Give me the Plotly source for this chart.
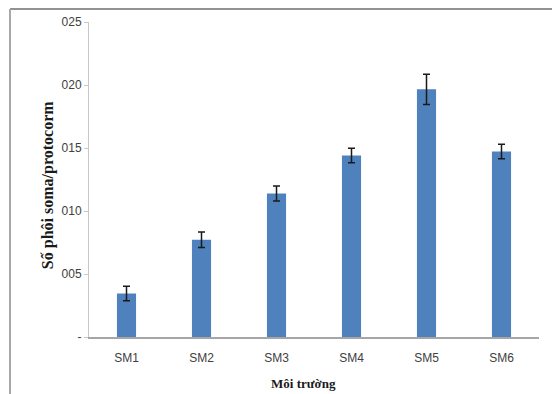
import plotly.graph_objects as go

categories = ["SM1", "SM2", "SM3", "SM4", "SM5", "SM6"]
values = [3.45, 7.72, 11.39, 14.4, 19.66, 14.72]
errors = [0.57, 0.62, 0.6, 0.58, 1.2, 0.58]
y_tickvals = [0, 5, 10, 15, 20, 25]
y_ticktext = ["-", "005", "010", "015", "020", "025"]

fig = go.Figure()
fig.add_trace(go.Bar(
    x=categories, y=values,
    marker=dict(color="#4f81bd", line=dict(width=0)),
    width=0.255,
    error_y=dict(type="data", array=errors, visible=True,
                 color="#1a1a1a", thickness=1.5, width=3.5),
))

# page body has an 8px margin, so the figure is laid out 8px up/left
OFF = 8
W, H = 560 - OFF, 394 - OFF
ml, mt = 89 - OFF, 22 - OFF
mr = W - (539 - OFF)
mb = H - (336.7 - OFF)
pw, ph = W - ml - mr, H - mt - mb


def px(x):
    return (x - OFF - ml) / pw


def py(y):
    return 1 - (y - OFF - mt) / ph


serif = "Liberation Serif, Times New Roman, serif"
fig.update_layout(
    width=W, height=H,
    margin=dict(l=ml, r=mr, t=mt, b=mb, autoexpand=False),
    paper_bgcolor="white", plot_bgcolor="white",
    showlegend=False,
    font=dict(family="Liberation Sans Narrow, Arial Narrow, Liberation Sans, sans-serif", color="#404040", size=12),
    xaxis=dict(
        automargin=False,
        showline=True, linecolor="#a6a6a6", linewidth=1.5,
        ticks="", showgrid=False, zeroline=False,
        ticklabelstandoff=9,
        tickfont=dict(size=12, color="#404040"),
    ),
    yaxis=dict(
        automargin=False,
        range=[0, 25],
        tickvals=y_tickvals, ticktext=y_ticktext,
        showline=True, linecolor="#c8c8c8", linewidth=1,
        ticks="outside", ticklen=4, tickcolor="#c8c8c8",
        showgrid=False, zeroline=False,
        tickfont=dict(size=12, color="#404040"),
    ),
    annotations=[
        dict(text="<b>Số phôi soma/protocorm</b>", xref="paper", yref="paper",
             x=px(48), y=py(185),
             textangle=-90, showarrow=False, xanchor="center", yanchor="middle",
             font=dict(family=serif, size=16, color="#1a1a1a")),
        dict(text="<b>Môi trường</b>", xref="paper", yref="paper",
             x=px(303), y=py(383),
             showarrow=False, xanchor="center", yanchor="middle",
             font=dict(family=serif, size=13, color="#1a1a1a")),
    ],
    shapes=[
        dict(type="line", xref="paper", yref="paper", x0=px(10), x1=px(565), y0=py(9), y1=py(9),
             line=dict(color="#6e6e6e", width=1.5)),
        dict(type="line", xref="paper", yref="paper", x0=px(10), x1=px(10), y0=py(9), y1=py(400),
             line=dict(color="#a8a8a8", width=2)),
    ],
)

fig.write_html("out.html")
